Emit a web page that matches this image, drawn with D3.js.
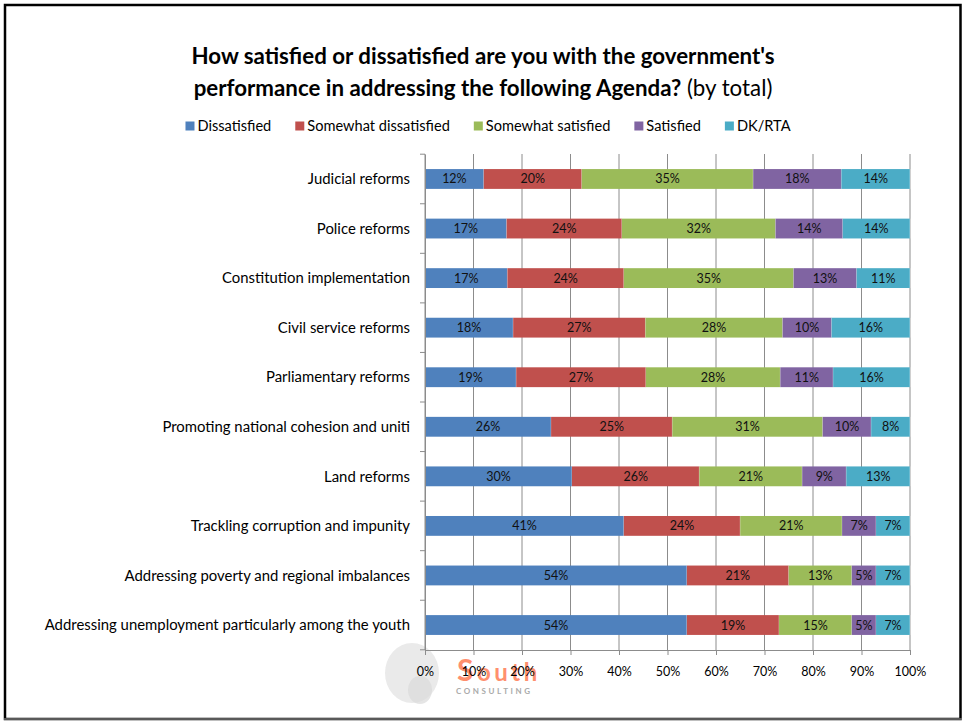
<!DOCTYPE html>
<html><head><meta charset="utf-8">
<script src="https://cdn.jsdelivr.net/npm/d3@7"></script>
<style>body{margin:0;background:#fff}svg{display:block}text{font-family:Lato,"Open Sans",sans-serif}</style>
</head><body>
<svg id="c" width="963" height="721"></svg>
<script>
const categories = ["Judicial reforms","Police reforms","Constitution implementation","Civil service reforms","Parliamentary reforms","Promoting national cohesion and uniti","Land reforms","Trackling corruption and impunity","Addressing poverty and regional imbalances","Addressing unemployment particularly among the youth"];
const seriesNames = ["Dissatisfied","Somewhat dissatisfied","Somewhat satisfied","Satisfied","DK/RTA"];
const dissatisfied = [12,17,17,18,19,26,30,41,54,54];
const somewhatDissatisfied = [20,24,24,27,27,25,26,24,21,19];
const somewhatSatisfied = [35,32,35,28,28,31,21,21,13,15];
const satisfied = [18,14,13,10,11,10,9,7,5,5];
const dkRta = [14,14,11,16,16,8,13,7,7,7];
const tickLabels = ["0%","10%","20%","30%","40%","50%","60%","70%","80%","90%","100%"];
const colors = ["#4F81BD","#C0504D","#9BBB59","#8064A2","#4BACC6"];

const seriesVals = [dissatisfied, somewhatDissatisfied, somewhatSatisfied, satisfied, dkRta];
const rows = categories.map((c,i)=>{const o={cat:c}; seriesNames.forEach((s,j)=>o[s]=seriesVals[j][i]); return o;});

const svg = d3.select("#c");
// frame
svg.append("rect").attr("x",5).attr("y",5).attr("width",955.5).attr("height",714).attr("fill","#fff").attr("stroke","#000").attr("stroke-width",2.5);
svg.append("line").attr("x1",4).attr("x2",962).attr("y1",719).attr("y2",719).attr("stroke","#777").attr("stroke-width",1.5);

// watermark logo (faint) - behind axis text
const logo = svg.append("g");
logo.append("ellipse").attr("cx",412).attr("cy",673).attr("rx",27).attr("ry",30).attr("fill","#e6e6e6").attr("opacity",0.85);
logo.append("ellipse").attr("cx",420).attr("cy",690).attr("rx",12).attr("ry",14).attr("fill","#dadada").attr("opacity",0.7);
const st = logo.append("text").attr("x",457).attr("y",681).attr("font-weight","bold").attr("fill","#FF6A3D").attr("opacity",0.75).attr("letter-spacing",3.5);
st.append("tspan").attr("font-size",30).text("S");
st.append("tspan").attr("font-size",24).text("outh");
logo.append("text").attr("x",456).attr("y",694).attr("font-size",8).attr("font-weight","bold").attr("fill","#aaa").attr("letter-spacing",2.6).text("CONSULTING");

// title
const title = svg.append("text").attr("text-anchor","middle").attr("font-size",22.3).attr("fill","#000");
title.append("tspan").attr("x",483).attr("y",64).attr("font-weight","bold").text("How satisfied or dissatisfied are you with the government's");
const t2 = title.append("tspan").attr("x",483).attr("y",96);
t2.append("tspan").attr("font-weight","bold").text("performance in addressing the following Agenda?");
t2.append("tspan").attr("font-weight","normal").text(" (by total)");

// layout
const x = d3.scaleLinear().domain([0,1]).range([425,910]);
const y = d3.scaleBand().domain(categories).range([154.2,649.8]).paddingInner(0.6).paddingOuter(0.3);
const yOuter = d3.scaleBand().domain(categories).range([154.2,649.8]);

// grid
svg.append("g").selectAll("line").data(d3.range(0,1.0001,0.1)).join("line")
  .attr("x1",d=>x(d)).attr("x2",d=>x(d)).attr("y1",154).attr("y2",650)
  .attr("stroke","#8c8c8c").attr("stroke-width",1);

// stacks
const stack = d3.stack().keys(seriesNames).offset(d3.stackOffsetExpand);
const layers = stack(rows);
const lg = svg.append("g").selectAll("g").data(layers).join("g").attr("fill",(d,i)=>colors[i]);
lg.selectAll("rect").data(d=>d).join("rect")
  .attr("x",d=>x(d[0])).attr("width",d=>x(d[1])-x(d[0]))
  .attr("y",d=>y(d.data.cat)).attr("height",y.bandwidth());
lg.selectAll("line").data(d=>d).join("line")
  .attr("x1",d=>x(d[1])).attr("x2",d=>x(d[1])).attr("y1",d=>y(d.data.cat)).attr("y2",d=>y(d.data.cat)+y.bandwidth())
  .attr("stroke","#fff").attr("stroke-opacity",0.5).attr("stroke-width",0.8);
layers.forEach((layer,i)=>{
  svg.append("g").selectAll("text").data(layer).join("text")
    .attr("x",d=>(x(d[0])+x(d[1]))/2).attr("y",d=>y(d.data.cat)+y.bandwidth()/2+4.5)
    .attr("text-anchor","middle").attr("font-size",12.5).attr("fill","#111")
    .text(d=>d.data[seriesNames[i]]+"%");
});

// axes
const yAxis = d3.axisLeft(yOuter).tickSize(0).tickFormat(d=>d);
const ya = svg.append("g").attr("transform","translate(425,0)").call(yAxis);
ya.select(".domain").attr("stroke","#8c8c8c");
ya.selectAll("text").attr("font-size",14.9).attr("fill","#000").attr("dx",-12).attr("dy","0.35em").attr("font-family","Lato");
svg.append("g").selectAll("line").data(d3.range(categories.length+1)).join("line")
  .attr("x1",420).attr("x2",425).attr("y1",i=>154.2+i*yOuter.step()).attr("y2",i=>154.2+i*yOuter.step())
  .attr("stroke","#8c8c8c");

const xAxis = d3.axisBottom(x).tickValues(d3.range(0,1.0001,0.1)).tickSize(5).tickFormat((d,i)=>tickLabels[i]);
const xa = svg.append("g").attr("transform","translate(0,650)").call(xAxis);
xa.select(".domain").attr("stroke","#8c8c8c");
xa.selectAll(".tick line").attr("stroke","#8c8c8c");
xa.selectAll("text").attr("font-size",12.5).attr("fill","#000").attr("y",17).attr("font-family","Lato");

// legend
const leg = svg.append("g");
let lx = 0;
seriesNames.forEach((n,i)=>{
  const it = leg.append("g");
  it.append("rect").attr("width",9).attr("height",9).attr("y",-9.5).attr("fill",colors[i]);
  const t = it.append("text").attr("x",12).attr("y",0).attr("font-size",14.6).attr("fill","#000").text(n);
  const w = 12 + t.node().getComputedTextLength();
  it.attr("transform",`translate(${lx},0)`);
  lx += w + 24;
});
const totalW = lx - 24;
leg.attr("transform",`translate(${488-totalW/2},131)`);
</script>
</body></html>
